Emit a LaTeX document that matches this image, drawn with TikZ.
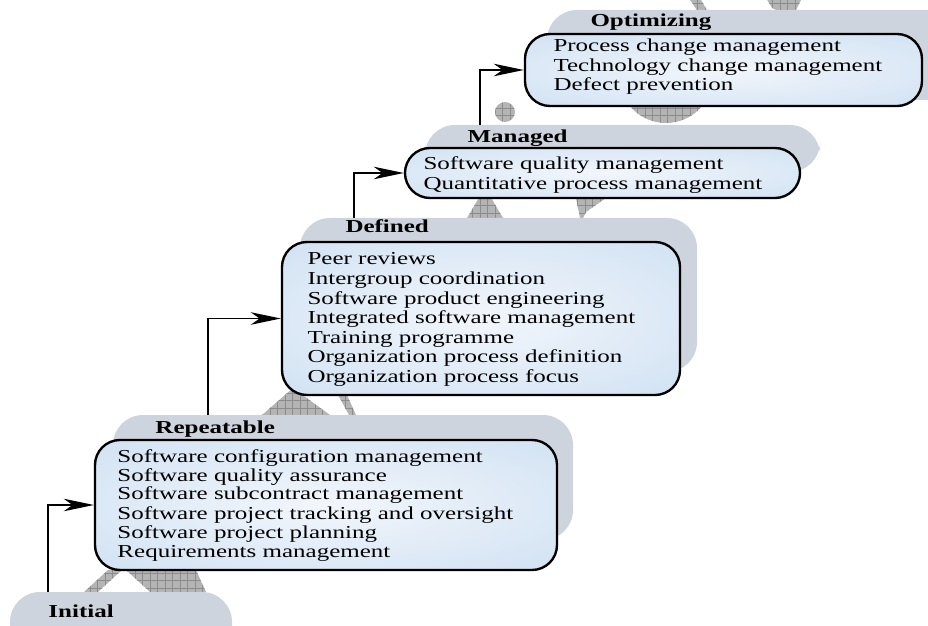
\documentclass[tikz,border=0pt]{standalone}
\usepackage{fontspec}
\setmainfont{Liberation Serif}[FakeStretch=1.37]
\usetikzlibrary{arrows.meta,fit,patterns}
\definecolor{backgrey}{RGB}{206,212,221}
\definecolor{boxlight}{RGB}{242,246,251}
\definecolor{boxblue}{RGB}{196,218,240}
\definecolor{figgrey}{RGB}{180,180,180}
\definecolor{figline}{RGB}{140,140,140}
\pgfdeclareradialshading{boxglow}{\pgfpoint{0bp}{0bp}}{color(0bp)=(boxlight); color(50bp)=(boxblue)}

\begin{document}
\begin{tikzpicture}[x=0.4pt, y=-0.4pt,
  backbox/.style={fill=backgrey, rounded corners=12pt, inner sep=0pt},
  stepbox/.style={draw=black, line width=0.95pt, rounded corners=10pt,
    shade, shading=boxglow, inner sep=0pt},
  level/.style={anchor=base west, inner sep=0pt,
    font=\fontsize{7.3}{7.6}\selectfont\bfseries},
  item/.style={anchor=base west, inner sep=0pt,
    font=\fontsize{7.3}{7.6}\selectfont},
  climber/.style={fill=figgrey, postaction={pattern=grid, pattern color=figline}},
  lift/.style={line width=0.5pt, -{Stealth[length=12pt, width=5pt, inset=3.5pt]}}]

\useasboundingbox (0,0) rectangle (928,626);
\clip (0,0) rectangle (928,626);

% the figure climbing the steps
\fill[climber] (84,592) -- (108,570) -- (122,570) -- (98,592) -- cycle;
\fill[climber] (126,570) -- (196,570) -- (206,592) -- (150,592) -- cycle;
\fill[climber] (262,415) -- (293,388) -- (330,415) -- cycle;
\fill[climber] (338,395) -- (347,395) -- (356,415) -- (349,415) -- cycle;
\fill[climber] (467,218) -- (480,196) -- (490,196) -- (503,218) -- cycle;
\fill[climber] (576,198) -- (606,198) -- (586,212) -- (583,218) -- (580,218) -- cycle;
\fill[climber] (505,112) circle (4pt);
\fill[climber] (666,76) circle (18.8pt);
\fill[climber] (689,-2) -- (700,-2) -- (708,12) -- (698,12) -- cycle;
\fill[climber] (766,-2) -- (802,-2) -- (796,10) -- (780,12) -- (772,8) -- cycle;

% grey steps
\node[backbox, fit={(10,592) (232,660)}] (initback) {};
\node[backbox, fit={(113,415) (573,540)}] (repback) {};
\node[backbox, fit={(300,218) (697,372)}] (defback) {};
\node[backbox, fit={(425,125) (820,172)}] (manback) {};
\node[backbox, fit={(547,10) (960,100)}] (optback) {};

% key process areas
\node[stepbox, fit={(95,440) (557,570)}] (rep) {};
\node[stepbox, fit={(282,242) (680,395)}] (def) {};
\node[stepbox, fit={(405,148) (800,198)}] (man) {};
\node[stepbox, fit={(525,34) (922,106)}] (opt) {};

\node[level] (inithead) at (48,617) {Initial};
\node[level] (rephead) at (155,433) {Repeatable};
\node[level] (defhead) at (345,233) {Defined};
\node[level] (manhead) at (467,143) {Managed};
\node[level] (opthead) at (590,27) {Optimizing};

\foreach \t [count=\i from 0] in {Software configuration management,
  Software quality assurance, Software subcontract management,
  Software project tracking and oversight, Software project planning,
  Requirements management}
  \node[item] (rep-\i) at (117,{462+19*\i}) {\t};

\foreach \t [count=\i from 0] in {Peer reviews, Intergroup coordination,
  Software product engineering, Integrated software management,
  Training programme, Organization process definition,
  Organization process focus}
  \node[item] (def-\i) at (307,{265+19.6*\i}) {\t};

\foreach \t [count=\i from 0] in {Software quality management,
  Quantitative process management}
  \node[item] (man-\i) at (423,{170+20*\i}) {\t};

\foreach \t [count=\i from 0] in {Process change management,
  Technology change management, Defect prevention}
  \node[item] (opt-\i) at (553,{52+19.5*\i}) {\t};

% steps up
\coordinate (rise1) at (48,592);
\coordinate (rise2) at (208,415);
\coordinate (rise3) at (354,218);
\coordinate (rise4) at (480,125);
\draw[lift] (rise1) |- (rep.west);
\draw[lift] (rise2) |- (def.west);
\draw[lift] (rise3) |- (man.west);
\draw[lift] (rise4) |- (opt.west);
\end{tikzpicture}
\end{document}
